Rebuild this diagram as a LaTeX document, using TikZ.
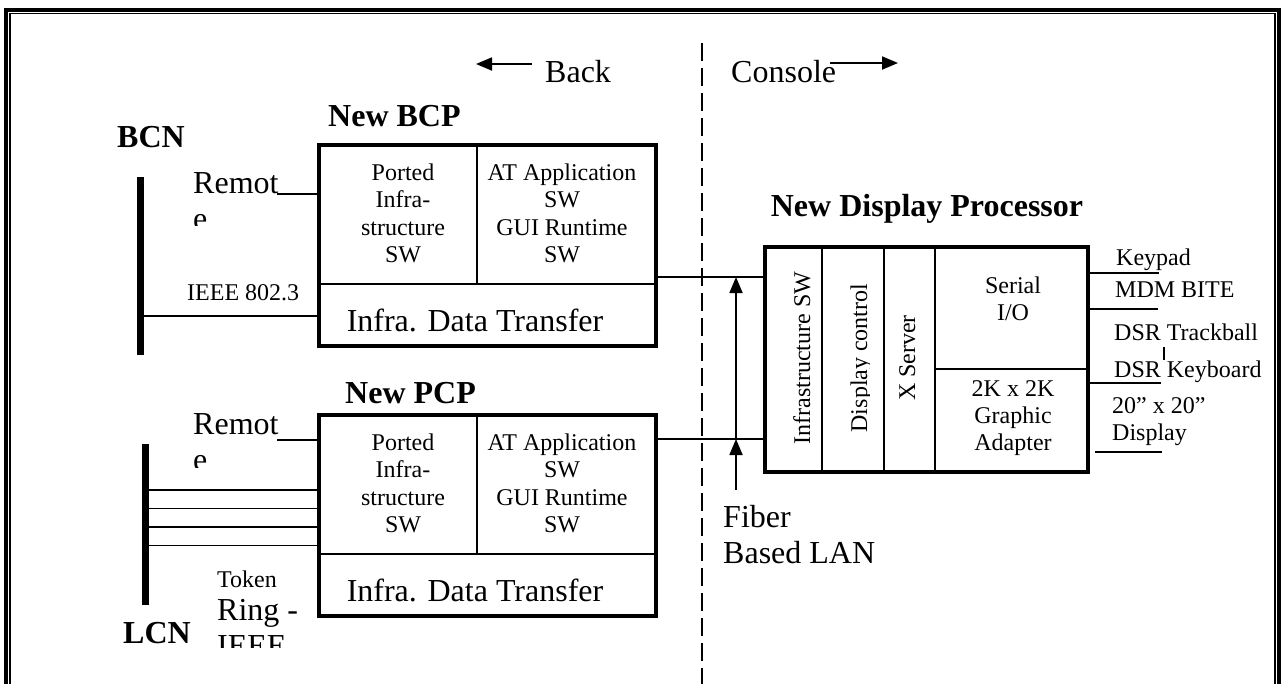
\documentclass[tikz,border=0pt]{standalone}
\usepackage{fontspec}
\setmainfont{Liberation Serif}
\usetikzlibrary{arrows.meta,calc}
\newcommand\bigtxt{\fontsize{32}{36}\selectfont}
\newcommand\smalltxt{\fontsize{24}{27.5}\selectfont}
\begin{document}
\begin{tikzpicture}[x=1pt,y=-1pt,
  wire/.style={line width=1.5pt},
  part/.style={line width=1.6pt},
  boxframe/.style={draw,line width=3.6pt,inner sep=0pt,minimum width=337pt,minimum height=201pt},
  bus/.style={line width=7pt},
  tip/.style={line width=1.8pt,-{Triangle[length=16pt,width=13pt]}},
  lbl/.style={inner sep=0pt,font=\smalltxt},
  biglbl/.style={inner sep=0pt,font=\bigtxt},
  title/.style={inner sep=0pt,font=\bigtxt\bfseries},
  cell/.style={inner sep=0pt,font=\smalltxt,align=center,anchor=north}]
\useasboundingbox (0,0) rectangle (1284,683);

% double frame, open at the bottom
\draw[line width=4pt] (6,690) -- (6,9.5) -- (1279,9.5) -- (1279,690);
\draw[line width=1.5pt] (10,690) -- (10,13.5) -- (1275,13.5) -- (1275,690);

% back / console split
\coordinate (dtop) at (702,43);
\coordinate (dbot) at (702,690);
\draw[wire,dash pattern=on 18pt off 7pt] (dtop) -- (dbot);
\node[biglbl,anchor=base west] (back) at (545,82) {Back};
\node[biglbl,anchor=base west] (console) at (731,82) {Console};
\coordinate (backA) at (532,64);
\coordinate (backB) at (476,64);
\coordinate (conA) at (830,63);
\coordinate (conB) at (898,63);
\draw[tip] (backA) -- (backB);
\draw[tip] (conA) -- (conB);

% ---------- New BCP ----------
\node[title,anchor=base west] (bcptitle) at (328,126) {New BCP};
\node[boxframe] (bcp) at (487.5,245.5) {};
\draw[part] ($(bcp.north west)+(0,140.5)$) -- ($(bcp.north east)+(0,140.5)$);
\draw[part] ($(bcp.north west)+(160,0)$) -- ($(bcp.north west)+(160,140.5)$);
\node[cell] (bcpinfra) at (403,163.6) {Ported\\Infra-\\structure\\SW};
\node[cell] (bcpapp) at (562,163.6) {AT Application\\SW\\GUI Runtime\\SW};
\node[biglbl,anchor=base] (bcpxfer) at (475,331) {Infra. Data Transfer};

% BCN bus
\node[title,anchor=base west] (bcn) at (117,147) {BCN};
\coordinate (bcntop) at (140.5,177);
\coordinate (bcnbot) at (140.5,355);
\draw[bus] (bcntop) -- (bcnbot);
\node[biglbl,anchor=base west] (remA) at (193,193) {Remot};
\begin{scope}
  \clip (185,200) rectangle (300,225);
  \node[biglbl,anchor=base west] (remAe) at (193,229) {e};
\end{scope}
\coordinate (remAout) at (277,194);
\draw[wire] (remAout) -- (remAout -| bcp.west);
\node[lbl,anchor=base west] (ieee) at (187,300) {IEEE 802.3};
\coordinate (ieeeline) at (144,316);
\draw[wire] (ieeeline) -- (ieeeline -| bcp.west);

% ---------- New PCP ----------
\node[title,anchor=base west] (pcptitle) at (345,403) {New PCP};
\node[boxframe] (pcp) at (487.5,515.5) {};
\draw[part] ($(pcp.north west)+(0,141)$) -- ($(pcp.north east)+(0,141)$);
\draw[part] ($(pcp.north west)+(160,0)$) -- ($(pcp.north west)+(160,141)$);
\node[cell] (pcpinfra) at (403,433.6) {Ported\\Infra-\\structure\\SW};
\node[cell] (pcpapp) at (562,433.6) {AT Application\\SW\\GUI Runtime\\SW};
\node[biglbl,anchor=base] (pcpxfer) at (475,601) {Infra. Data Transfer};

% LCN bus
\node[title,anchor=base west] (lcn) at (123,643) {LCN};
\coordinate (lcntop) at (145,444);
\coordinate (lcnbot) at (145,605);
\draw[bus] (lcntop) -- (lcnbot);
\node[biglbl,anchor=base west] (remB) at (193,434) {Remot};
\begin{scope}
  \clip (185,445) rectangle (300,467);
  \node[biglbl,anchor=base west] (remBe) at (193,470) {e};
\end{scope}
\coordinate (remBout) at (277,440);
\draw[wire] (remBout) -- (remBout -| pcp.west);
\foreach \yy in {490,508.5,527,545.5}
  \draw[wire] (lcntop |- 0,\yy) -- (pcp.west |- 0,\yy);
\node[lbl,anchor=base west] (token) at (217,587) {Token};
\node[biglbl,anchor=base west] (ring) at (217,620) {Ring -};
\begin{scope}
  \clip (210,625) rectangle (320,647);
  \node[biglbl,anchor=base west] (ringieee) at (217,656) {IEEE};
\end{scope}

% ---------- New Display Processor ----------
\node[title,anchor=base] (ndptitle) at (927,216) {New Display Processor};
\node[draw,line width=3.6pt,inner sep=0pt,minimum width=323pt,minimum height=225pt] (ndp) at (926.5,359.5) {};
\foreach \dx in {59,121,172}
  \draw[part] ($(ndp.north west)+(\dx,0)$) -- ($(ndp.south west)+(\dx,0)$);
\draw[part] ($(ndp.north west)+(172,124)$) -- ($(ndp.north east)+(0,124)$);
\node[lbl,rotate=90,anchor=base] (infsw) at (810,358) {Infrastructure SW};
\begin{scope}
  \clip (830,250) rectangle (869,470);
  \node[lbl,rotate=90,anchor=base] (dispctl) at (867,358) {Display control};
\end{scope}
\node[lbl,rotate=90,anchor=base] (xsrv) at (915,358) {X Server};
\node[cell] (serio) at (1013,276.6) {Serial\\I/O};
\node[cell,execute at begin node={\setlength{\baselineskip}{27pt}}] (gfx) at (1013,380.8) {2K x 2K\\Graphic\\Adapter};

% fiber LAN between the processors
\coordinate (bcpout) at (657,277);
\coordinate (pcpout) at (657,439);
\draw[wire] (bcpout) -- (bcpout -| ndp.west);
\draw[wire] (pcpout) -- (pcpout -| ndp.west);
\coordinate (fiber) at (736,490);
\draw[tip] (fiber) -- (fiber |- pcpout);
\draw[tip] (fiber |- pcpout) -- (fiber |- bcpout);
\node[biglbl,align=left,anchor=north west] (lan) at (723,505) {Fiber\\Based LAN};

% console peripherals
\coordinate (kp) at (1159,273);
\coordinate (mdm) at (1158,309);
\coordinate (dsr) at (1161,383);
\coordinate (disp) at (1162,452);
\draw[wire] (kp -| ndp.east) -- (kp);
\draw[wire] (mdm -| ndp.east) -- (mdm);
\draw[wire] (dsr -| ndp.east) -- (dsr);
\draw[wire] ($(disp -| ndp.east)+(5,0)$) -- (disp);
\coordinate (tickA) at (1164,347);
\coordinate (tickB) at (1164,360);
\draw[line width=1.2pt] (tickA) -- (tickB);
\node[lbl,anchor=base west] (keypad) at (1116,265) {Keypad};
\node[lbl,anchor=base west] (bite) at (1115,297) {MDM BITE};
\node[lbl,anchor=base west] (trackball) at (1114,340) {DSR Trackball};
\node[lbl,anchor=base west] (keyboard) at (1114,377) {DSR Keyboard};
\node[lbl,anchor=base west] (size) at (1112,413) {20” x 20”};
\node[lbl,anchor=base west] (display) at (1112,440) {Display};
\end{tikzpicture}
\end{document}
